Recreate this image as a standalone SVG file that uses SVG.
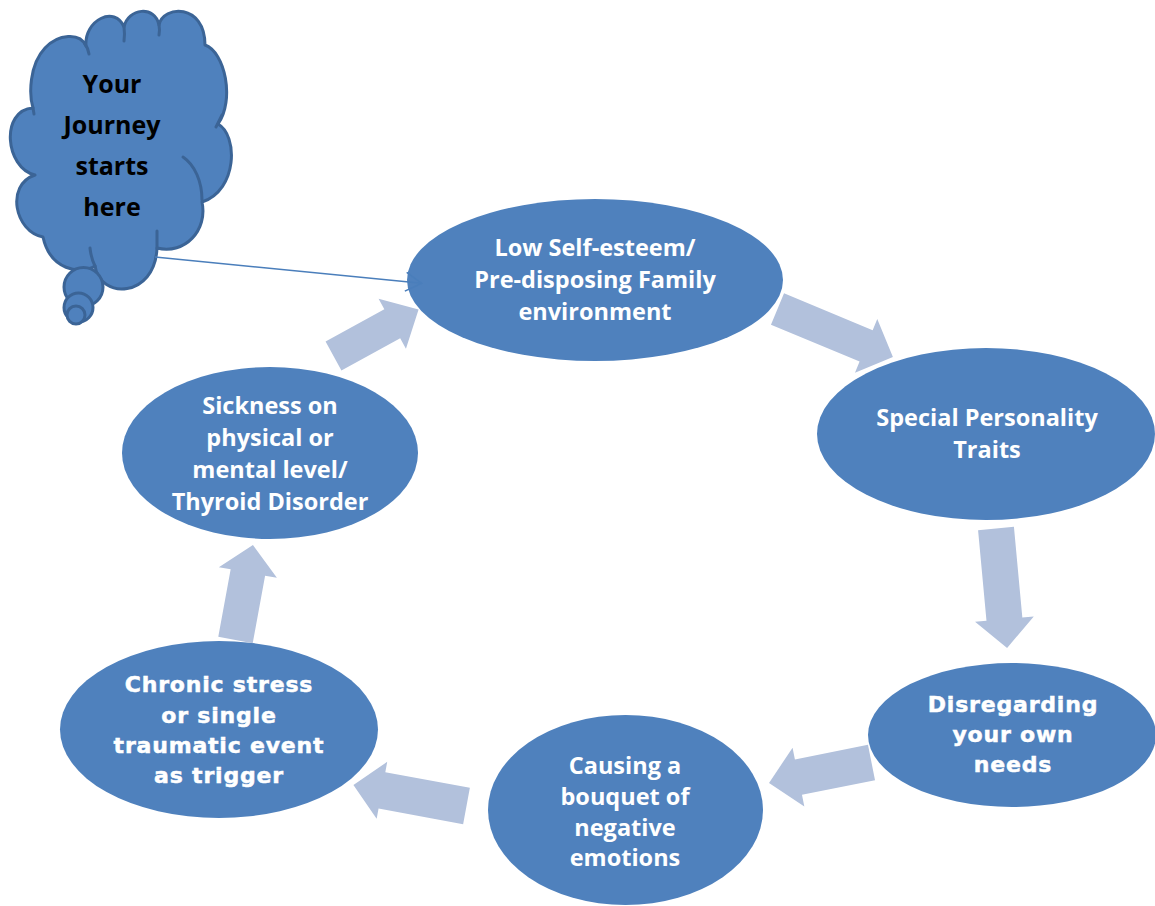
<svg xmlns="http://www.w3.org/2000/svg" width="1155" height="906" viewBox="0 0 1155 906">
<defs>
<style>
.node{fill:#4F81BD;}
.t{font-family:"Open Sans",Lato,"Liberation Sans",sans-serif;font-weight:bold;font-size:23.5px;fill:#FFFFFF;text-anchor:middle;}
.tb{font-family:"DejaVu Sans","Liberation Sans",sans-serif;font-weight:bold;font-size:22px;letter-spacing:0.8px;fill:#FFFFFF;stroke:#FFFFFF;stroke-width:0.5px;text-anchor:middle;}
.tc{font-family:"Open Sans",Lato,"Liberation Sans",sans-serif;font-weight:bold;font-size:25px;fill:#000000;text-anchor:middle;}
.cloud{fill:#4F81BD;stroke:#3B6496;stroke-width:3;stroke-linejoin:round;}
.tick{fill:none;stroke:#3B6496;stroke-width:3;stroke-linecap:round;}
.blk{fill:#B2C1DC;}
.line{fill:none;stroke:#4A7EBB;stroke-width:1.5;}
</style>
<marker id="open" markerUnits="userSpaceOnUse" viewBox="0 0 18 20" refX="17" refY="10" markerWidth="18" markerHeight="20" orient="auto">
<path d="M1,0.5 L17,10 L1,19.5" fill="none" stroke="#4A7EBB" stroke-width="1.5"/>
</marker>
</defs>
<rect x="0" y="0" width="1155" height="906" fill="#FFFFFF"/>

<g id="cloud-start">
<path class="cloud" d="M33,108 C29,95 29,65 45,48 C58,34 80,32 86,46 C84,20 115,5 124,27 C128,8 155,5 159,25 C163,5 205,3 205,45 C225,52 235,100 218,124 C238,135 238,190 202,202 C208,230 185,255 157,248 C155,298 100,300 95,266 C80,275 50,270 43,237 C15,232 5,185 35,175 C5,168 0,110 33,108 Z"/>
<path class="tick" d="M85,44 Q88,48 89,54"/>
<path class="tick" d="M124,27 Q125,34 124,41"/>
<path class="tick" d="M159,25 Q160,30 159,35"/>
<path class="tick" d="M222,115 Q219,121 216,127"/>
<path class="tick" d="M183,157 C195,165 202,182 202,200"/>
<path class="tick" d="M157,248 L157,231"/>
<path class="tick" d="M90,248 Q91,258 95,266"/>
<path class="tick" d="M33,108 L34,114"/>
<circle class="cloud" cx="83.5" cy="287" r="19.5"/>
<circle class="cloud" cx="78.5" cy="307.5" r="14.5"/>
<circle class="cloud" cx="76" cy="315" r="9"/>
<text class="tc" x="112" y="93">Your</text>
<text class="tc" x="112" y="134">Journey</text>
<text class="tc" x="112" y="175">starts</text>
<text class="tc" x="112" y="216">here</text>
</g>

<g id="n1">
<ellipse class="node" cx="595" cy="280" rx="188" ry="81"/>
<text class="t" x="595" y="256">Low Self-esteem/</text>
<text class="t" x="595" y="288">Pre-disposing Family</text>
<text class="t" x="595" y="320">environment</text>
</g>

<g id="n2">
<ellipse class="node" cx="986" cy="434" rx="169" ry="86"/>
<text class="t" x="987" y="426">Special Personality</text>
<text class="t" x="987" y="458">Traits</text>
</g>

<g id="n3">
<ellipse class="node" cx="1012" cy="735" rx="144" ry="72"/>
<text class="tb" x="1013" y="712">Disregarding</text>
<text class="tb" x="1013" y="742">your own</text>
<text class="tb" x="1013" y="772">needs</text>
</g>

<g id="n4">
<ellipse class="node" cx="625.5" cy="810" rx="137.5" ry="95"/>
<text class="t" x="625" y="774">Causing a</text>
<text class="t" x="625" y="805">bouquet of</text>
<text class="t" x="625" y="836">negative</text>
<text class="t" x="625" y="866">emotions</text>
</g>

<g id="n5">
<ellipse class="node" cx="219" cy="729.5" rx="159" ry="88.5"/>
<text class="tb" x="219" y="692">Chronic stress</text>
<text class="tb" x="219" y="723">or single</text>
<text class="tb" x="219" y="753">traumatic event</text>
<text class="tb" x="219" y="783">as trigger</text>
</g>

<g id="n6">
<ellipse class="node" cx="270" cy="453" rx="148" ry="86"/>
<text class="t" x="270" y="414">Sickness on</text>
<text class="t" x="270" y="446">physical or</text>
<text class="t" x="270" y="478">mental level/</text>
<text class="t" x="270" y="510">Thyroid Disorder</text>
</g>

<g id="connectors">
<polygon class="blk" transform="translate(333.5,356) rotate(-28.7)" points="0,-16.5 67,-16.5 67,-28.5 97,0 67,28.5 67,16.5 0,16.5"/>
<polygon class="blk" transform="translate(777.5,309) rotate(22.6)" points="0,-17 96,-17 96,-29 125,0 96,29 96,17 0,17"/>
<polygon class="blk" transform="translate(996,528.5) rotate(84.7)" points="0,-18 91,-18 91,-29.5 120,0 91,29.5 91,18 0,18"/>
<polygon class="blk" transform="translate(871.5,762.5) rotate(168.7)" points="0,-18 74.5,-18 74.5,-30 104.5,0 74.5,30 74.5,18 0,18"/>
<polygon class="blk" transform="translate(466.5,806) rotate(190.5)" points="0,-18.5 86,-18.5 86,-29 115,0 86,29 86,18.5 0,18.5"/>
<polygon class="blk" transform="translate(235.5,640) rotate(-79.6)" points="0,-17.5 68.6,-17.5 68.6,-29.5 96.6,0 68.6,29.5 68.6,17.5 0,17.5"/>
<line class="line" x1="155" y1="257" x2="421.7" y2="283.3" marker-end="url(#open)"/>
</g>
</svg>
